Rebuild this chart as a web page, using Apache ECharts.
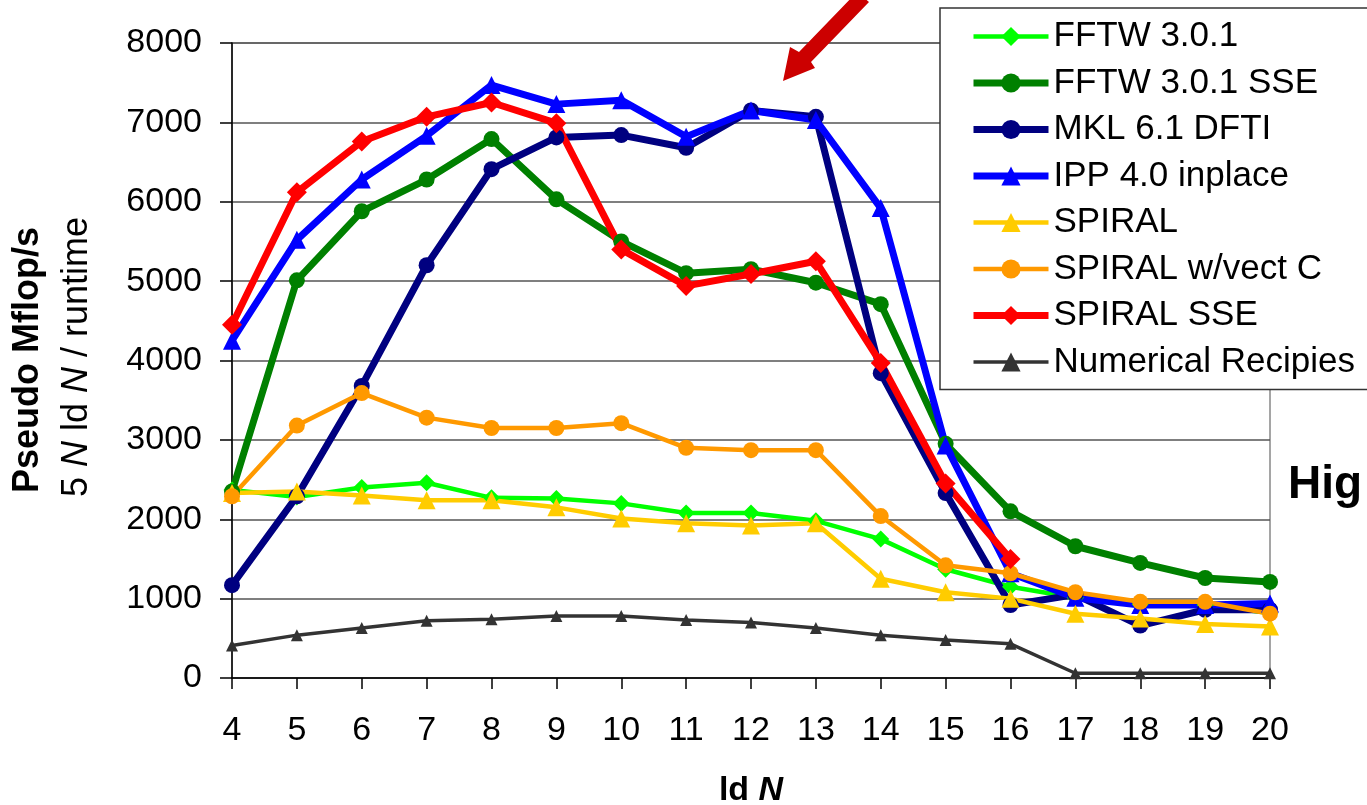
<!DOCTYPE html>
<html>
<head>
<meta charset="utf-8">
<script src="https://cdn.jsdelivr.net/npm/echarts@6/dist/echarts.min.js"></script>
<style>
  html, body { margin: 0; padding: 0; background: #fff; }
  #main { width: 1367px; height: 805px; }
</style>
</head>
<body>
<div id="main"></div>
<script>
const sizes = ['4', '5', '6', '7', '8', '9', '10', '11', '12', '13', '14', '15', '16', '17', '18', '19', '20'];
const yTicks = [0, 1000, 2000, 3000, 4000, 5000, 6000, 7000, 8000];

const fftw = [2370, 2280, 2400, 2460, 2270, 2260, 2200, 2080, 2080, 1980, 1750, 1370, 1150, 1010, 930, 920, 820];
const fftwSse = [2350, 5010, 5880, 6280, 6790, 6030, 5500, 5100, 5150, 4980, 4710, 2950, 2100, 1660, 1450, 1260, 1210];
const mkl = [1170, 2290, 3680, 5200, 6410, 6810, 6840, 6680, 7150, 7070, 3840, 2330, 920, 1050, 660, 860, 860];
const ipp = [4250, 5520, 6280, 6830, 7470, 7230, 7280, 6820, 7150, 7030, 5920, 2930, 1320, 1010, 920, 920, 940];
const spiral = [2330, 2350, 2300, 2240, 2240, 2150, 2010, 1950, 1920, 1950, 1250, 1080, 1000, 810, 750, 680, 650];
const spiralVect = [2290, 3180, 3590, 3280, 3150, 3150, 3210, 2900, 2870, 2870, 2040, 1420, 1320, 1080, 960, 960, 810];
const spiralSse = [4450, 6120, 6760, 7070, 7250, 6990, 5400, 4940, 5090, 5250, 3970, 2450, 1500];
const numRecipes = [410, 540, 630, 720, 740, 780, 780, 730, 700, 630, 540, 480, 430, 60, 60, 60, 60];

const FONT = '"Liberation Sans", Arial, sans-serif';

// name, data, colour, line width, symbol, symbol size
const seriesDefs = [
    ['FFTW 3.0.1', fftw, '#00ff00', 4.5, 'diamond', 17],
    ['FFTW 3.0.1 SSE', fftwSse, '#008000', 7, 'circle', 16],
    ['MKL 6.1 DFTI', mkl, '#000080', 7, 'circle', 16],
    ['IPP 4.0 inplace', ipp, '#0000ff', 7, 'triangle', 18],
    ['SPIRAL', spiral, '#ffcc00', 4.5, 'triangle', 18],
    ['SPIRAL w/vect C', spiralVect, '#ff9900', 4.5, 'circle', 16],
    ['SPIRAL SSE', spiralSse, '#ff0000', 7, 'diamond', 20],
    ['Numerical Recipies', numRecipes, '#333333', 3.5, 'triangle', 12]
];

const myChart = echarts.init(document.getElementById('main'), null, { renderer: 'canvas' });

const option = {
    animation: false,
    backgroundColor: '#fff',
    textStyle: { fontFamily: FONT },
    grid: {
        left: 232,
        right: 97,
        top: 43,
        bottom: 127,
        outerBoundsMode: 'none',
        containLabel: false,
        show: true,
        borderColor: '#888',
        borderWidth: 1.5,
        backgroundColor: 'transparent'
    },
    legend: {
        orient: 'vertical',
        left: 940,
        top: 8,
        padding: [11, 40, 10, 30],
        itemGap: 11.5,
        itemWidth: 75,
        itemHeight: 24,
        backgroundColor: '#fff',
        borderColor: '#333',
        borderWidth: 1.5,
        borderRadius: 0,
        textStyle: { fontSize: 35, color: '#000', fontFamily: FONT },
        data: seriesDefs.map(function (d) {
            return {
                name: d[0],
                lineStyle: { width: d[3], color: d[2] },
                itemStyle: { color: d[2] }
            };
        })
    },
    xAxis: {
        type: 'category',
        data: sizes,
        boundaryGap: false,
        name: '{a|ld }{b|N}',
        nameLocation: 'middle',
        nameGap: 96,
        nameTextStyle: {
            rich: {
                a: { fontSize: 34, fontWeight: 'bold', color: '#000', fontFamily: FONT },
                b: { fontSize: 34, fontWeight: 'bold', fontStyle: 'italic', color: '#000', fontFamily: FONT }
            }
        },
        axisLine: { lineStyle: { color: '#000', width: 1.5 } },
        axisTick: { show: true, length: 11, alignWithLabel: true, lineStyle: { color: '#000', width: 1.5 } },
        axisLabel: { fontSize: 34, color: '#000', margin: 36, fontFamily: FONT },
        splitLine: { show: false }
    },
    yAxis: {
        type: 'value',
        min: yTicks[0],
        max: yTicks[yTicks.length - 1],
        interval: 1000,
        axisLine: { show: true, lineStyle: { color: '#000', width: 1.5 } },
        axisTick: { show: true, length: 12, lineStyle: { color: '#000', width: 1.5 } },
        axisLabel: {
            fontSize: 34,
            color: '#000',
            margin: 30,
            fontFamily: FONT,
            formatter: function (v) { return String(v); }
        },
        splitLine: { show: true, lineStyle: { color: '#555', width: 1.5 } }
    },
    graphic: [
        {
            type: 'text',
            x: 28,
            y: 493,
            rotation: Math.PI / 2,
            style: {
                text: 'Pseudo Mflop/s',
                font: 'bold 36px ' + FONT,
                fill: '#000',
                align: 'left',
                verticalAlign: 'middle'
            }
        },
        {
            type: 'text',
            x: 77,
            y: 497,
            rotation: Math.PI / 2,
            style: {
                text: '{a|5 }{b|N}{a| ld }{b|N}{a| / runtime}',
                rich: {
                    a: { fontSize: 36, fontFamily: FONT, fill: '#000' },
                    b: { fontSize: 36, fontFamily: FONT, fontStyle: 'italic', fill: '#000' }
                },
                align: 'left',
                verticalAlign: 'middle'
            }
        },
        {
            type: 'text',
            left: 1288,
            top: 462,
            style: {
                text: 'Hig',
                font: 'bold 46px ' + FONT,
                fill: '#000'
            }
        },
        {
            type: 'polygon',
            z: 100,
            shape: {
                points: [[857, -8], [869, 2], [811, 62], [815, 68], [783, 81], [790, 47], [799, 52], [857, -8]]
            },
            style: { fill: '#cc0000' }
        }
    ],
    series: seriesDefs.map(function (d) {
        return {
            name: d[0],
            type: 'line',
            data: d[1],
            symbol: d[4],
            symbolSize: d[5],
            showAllSymbol: true,
            itemStyle: { color: d[2] },
            lineStyle: { color: d[2], width: d[3] },
            emphasis: { disabled: true }
        };
    })
};

myChart.setOption(option);
</script>
</body>
</html>
